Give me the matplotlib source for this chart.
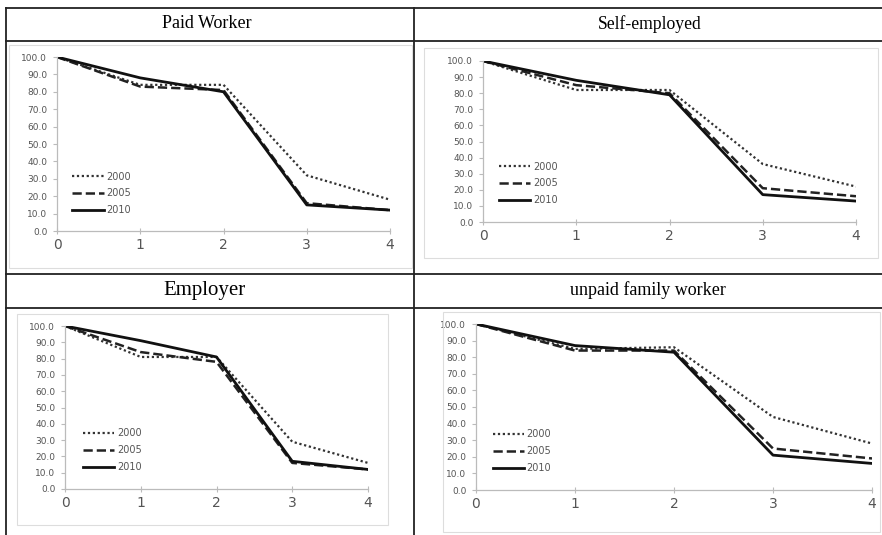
import matplotlib.pyplot as plt
from matplotlib.lines import Line2D
from matplotlib.patches import Rectangle

W, H = 882, 535

x_vals = [0, 1, 2, 3, 4]
years = ['2000', '2005', '2010']

titles = ['Paid Worker', 'Self-employed', 'Employer', 'unpaid family worker']

paid = {'2000': [100, 84, 84, 32, 18],
        '2005': [100, 83, 81, 16, 12],
        '2010': [100, 88, 80, 15, 12]}
self_emp = {'2000': [100, 82, 82, 36, 22],
            '2005': [100, 85, 80, 21, 16],
            '2010': [100, 88, 79, 17, 13]}
employer = {'2000': [100, 81, 81, 29, 16],
            '2005': [100, 84, 78, 16, 12],
            '2010': [100, 91, 81, 17, 12]}
unpaid = {'2000': [100, 85, 86, 44, 28],
          '2005': [100, 84, 84, 25, 19],
          '2010': [100, 87, 83, 21, 16]}
all_data = [paid, self_emp, employer, unpaid]

styles = {'2000': dict(ls=(0, (1, 1.2)), lw=1.6, color='#333333'),
          '2005': dict(ls='--', lw=1.8, color='#222222'),
          '2010': dict(ls='-', lw=2.0, color='#111111')}


def fbox(x0, y0, x1, y1):
    # pixel box -> figure fraction [left, bottom, width, height]
    return [x0 / W, 1 - y1 / H, (x1 - x0) / W, (y1 - y0) / H]


fig = plt.figure(figsize=(W / 100, H / 100), dpi=100)
fig.patch.set_facecolor('white')

# table grid lines (pixel coords)
def hline(y, x0=6, x1=882, lw=1.3):
    fig.add_artist(Line2D([x0 / W, x1 / W], [1 - y / H, 1 - y / H], color='#222222', lw=lw))

def vline(x, y0=8, y1=535, lw=1.3):
    fig.add_artist(Line2D([x / W, x / W], [1 - y0 / H, 1 - y1 / H], color='#222222', lw=lw))

hline(8)
hline(41)
hline(274)
hline(308)
vline(6)
vline(414)

# chart frames (light grey, like pasted Excel images)
frames = [(9, 45, 412, 268), (424, 48, 878, 258), (17, 314, 388, 525), (443, 312, 880, 532)]
for fx0, fy0, fx1, fy1 in frames:
    fig.add_artist(Rectangle((fx0 / W, 1 - fy1 / H), (fx1 - fx0) / W, (fy1 - fy0) / H,
                             fill=False, ec='#dddddd', lw=0.8))

# header texts
title_pos = [(207, 24), (650, 24), (205, 291), (648, 290)]
title_size = [13, 12.7, 15, 13]
for t, (tx, ty), fs in zip(titles, title_pos, title_size):
    fig.text(tx / W, 1 - ty / H, t, ha='center', va='center', fontsize=fs,
             family='Liberation Serif', color='black')

# plot areas: x=0..4, y=0..100 in pixels
plot_boxes = [(57, 57, 390, 231), (483, 61, 856, 222), (65, 326, 368, 489), (476, 324, 872, 490)]
leg_anchor = [(0.02, 0.04), (0.02, 0.05), (0.03, 0.05), (0.02, 0.05)]

for data, box, anc in zip(all_data, plot_boxes, leg_anchor):
    ax = fig.add_axes(fbox(*box))
    ax.patch.set_alpha(0)
    for y in years:
        ax.plot(x_vals, data[y], label=y, **styles[y])
    ax.set_xlim(0, 4)
    ax.set_ylim(0, 100)
    ax.set_xticks(x_vals)
    ax.set_yticks(range(0, 101, 10))
    ax.set_yticklabels(['%.1f' % v for v in range(0, 101, 10)])
    for s in ['top', 'right']:
        ax.spines[s].set_visible(False)
    for s in ['left', 'bottom']:
        ax.spines[s].set_color('#bbbbbb')
        ax.spines[s].set_linewidth(0.9)
    ax.tick_params(axis='x', labelsize=10, colors='#bbbbbb', labelcolor='#555555',
                   length=4, direction='inout', pad=3)
    ax.tick_params(axis='y', labelsize=6.5, colors='#bbbbbb', labelcolor='#555555',
                   length=3, direction='out', pad=4)
    ax.legend(loc='lower left', bbox_to_anchor=anc, frameon=False, fontsize=7,
              handlelength=3.2, labelspacing=0.7, handletextpad=0.3, labelcolor='#555555')

fig.savefig('out.png', dpi=100)
